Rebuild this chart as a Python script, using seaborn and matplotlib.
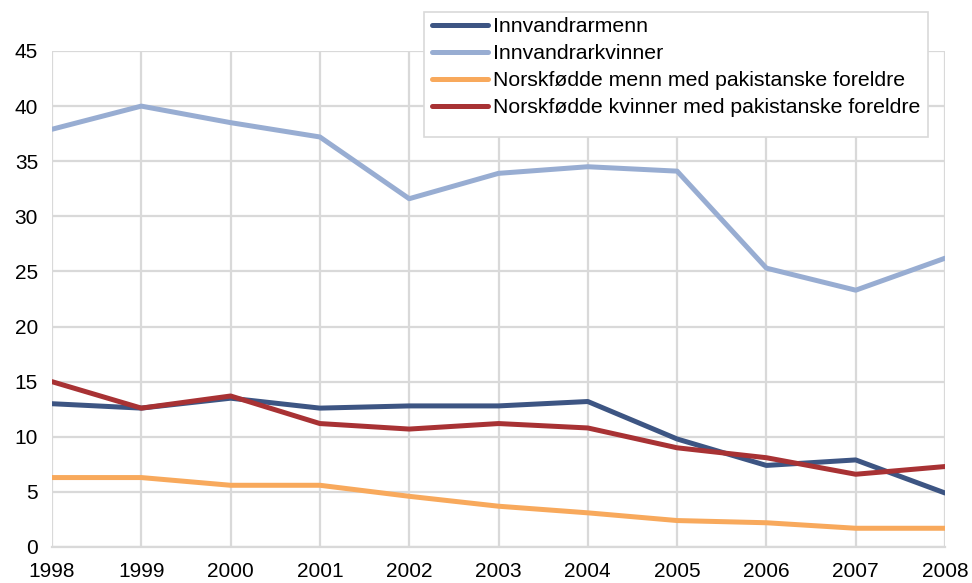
import matplotlib
matplotlib.use("Agg")
import matplotlib.pyplot as plt
from matplotlib.patches import Rectangle
import seaborn as sns
import pandas as pd

years = [1998, 1999, 2000, 2001, 2002, 2003, 2004, 2005, 2006, 2007, 2008]
innvandrarmenn = [13.0, 12.6, 13.5, 12.6, 12.8, 12.8, 13.2, 9.8, 7.4, 7.9, 4.9]
innvandrarkvinner = [37.9, 40.0, 38.5, 37.2, 31.6, 33.9, 34.5, 34.1, 25.3, 23.3, 26.2]
norsk_menn = [6.3, 6.3, 5.6, 5.6, 4.6, 3.7, 3.1, 2.4, 2.2, 1.7, 1.7]
norsk_kvinner = [15.0, 12.6, 13.7, 11.2, 10.7, 11.2, 10.8, 9.0, 8.1, 6.6, 7.3]
series_names = ["Innvandrarmenn", "Innvandrarkvinner",
                "Norskfødde menn med pakistanske foreldre",
                "Norskfødde kvinner med pakistanske foreldre"]
colors = ["#3D5583", "#98ADD2", "#F8A95C", "#A83234"]
y_ticks = [0, 5, 10, 15, 20, 25, 30, 35, 40, 45]

rows = []
for name, vals in zip(series_names, [innvandrarmenn, innvandrarkvinner, norsk_menn, norsk_kvinner]):
    for yr, v in zip(years, vals):
        rows.append({"År": yr, "Verdi": v, "Serie": name})
df = pd.DataFrame(rows)

sns.set_theme(style="white")
plt.rcParams["font.family"] = ["Liberation Sans", "DejaVu Sans"]
plt.rcParams["text.color"] = "black"

W, H = 972, 583
fig = plt.figure(figsize=(W / 100, H / 100), dpi=100)
ax = fig.add_axes([52 / W, (H - 547) / H, (945 - 52) / W, (547 - 51) / H])

sns.lineplot(data=df, x="År", y="Verdi", hue="Serie", hue_order=series_names,
             palette=colors, linewidth=3.6, ax=ax, legend=True)

ax.set_xlim(1998, 2008)
ax.set_ylim(0, 45)
ax.set_xticks(years)
ax.set_yticks(y_ticks)
ax.set_xticklabels([str(y) for y in years], fontsize=15, color="#000000")
ax.set_yticklabels([str(t) for t in y_ticks], fontsize=15, color="#000000")
ax.set_xlabel("")
ax.set_ylabel("")
ax.grid(True, color="#d9d9d9", linewidth=1.6)
ax.set_axisbelow(True)
for s in ["top", "right", "left"]:
    ax.spines[s].set_visible(False)
ax.spines["bottom"].set_color("#d9d9d9")
ax.spines["bottom"].set_linewidth(1.6)
ax.tick_params(axis="x", length=0, pad=11)
ax.tick_params(axis="y", length=0, pad=10)

handles, labels = ax.get_legend_handles_labels()
ax.get_legend().remove()

# legend frame
fig.patches.append(Rectangle((424 / W, 1 - 137 / H), (928 - 424) / W, (137 - 12) / H,
                             transform=fig.transFigure, facecolor="white",
                             edgecolor="#d9d9d9", linewidth=1.2, zorder=3))
leg = fig.legend(handles, labels, loc="upper left",
                 bbox_to_anchor=(432 / W, 1 - 17 / H),
                 frameon=False, fontsize=15.3,
                 handlelength=2.65, handletextpad=0.22, labelspacing=0.38,
                 borderpad=0, borderaxespad=0)
leg.set_zorder(4)
for t in leg.get_texts():
    t.set_color("black")
for line in leg.get_lines():
    line.set_linewidth(3.6)
    line.set_solid_capstyle("round")

fig.savefig("out.png", dpi=100)
